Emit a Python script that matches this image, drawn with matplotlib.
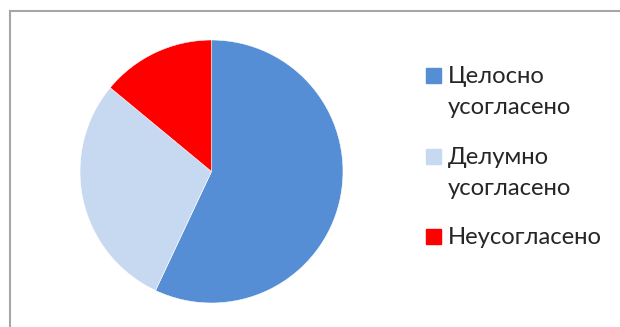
import matplotlib
matplotlib.use("Agg")
import matplotlib.pyplot as plt
from matplotlib.lines import Line2D
from matplotlib.patches import Rectangle

plt.rcParams['font.family'] = ['Lato', 'DejaVu Sans']

labels = ["Целосно\nусогласено", "Делумно\nусогласено", "Неусогласено"]
values = [57, 29, 14]
colors = ["#558ED5", "#C6D9F1", "#FF0000"]

W, H = 620, 327
fig = plt.figure(figsize=(W / 100, H / 100), dpi=100)

def fx(px):
    return px / W

def fy(py):
    return 1 - py / H

# pie axes: circle spans x 80..343, y 40..303 px
ax = fig.add_axes([fx(80), fy(303), 263 / W, 263 / H])
ax.pie(values, colors=colors, startangle=90, counterclock=False,
       wedgeprops=dict(edgecolor="white", linewidth=0.4))
ax.set_xlim(-1, 1)
ax.set_ylim(-1, 1)
ax.set_aspect("equal")
ax.axis("off")

# chart frame (only left and top edges visible)
fc = "#A6A6A6"
fig.add_artist(Line2D([fx(9.5), fx(9.5)], [fy(10.5), 0], color=fc, lw=1.5,
                      transform=fig.transFigure))
fig.add_artist(Line2D([fx(9.5), 1], [fy(10.5), fy(10.5)], color=fc, lw=1.5,
                      transform=fig.transFigure))

# legend
first_base = [83, 164, 244]
line_gap = 31
for lab, col, b in zip(labels, colors, first_base):
    fig.add_artist(Rectangle((fx(426), fy(b)), 15 / W, 15 / H, color=col,
                             transform=fig.transFigure))
    for k, line in enumerate(lab.split("\n")):
        fig.text(fx(448), fy(b + k * line_gap), line, fontsize=17.2,
                 color="#262626", va="baseline", ha="left")

fig.savefig("out.png", dpi=100)
